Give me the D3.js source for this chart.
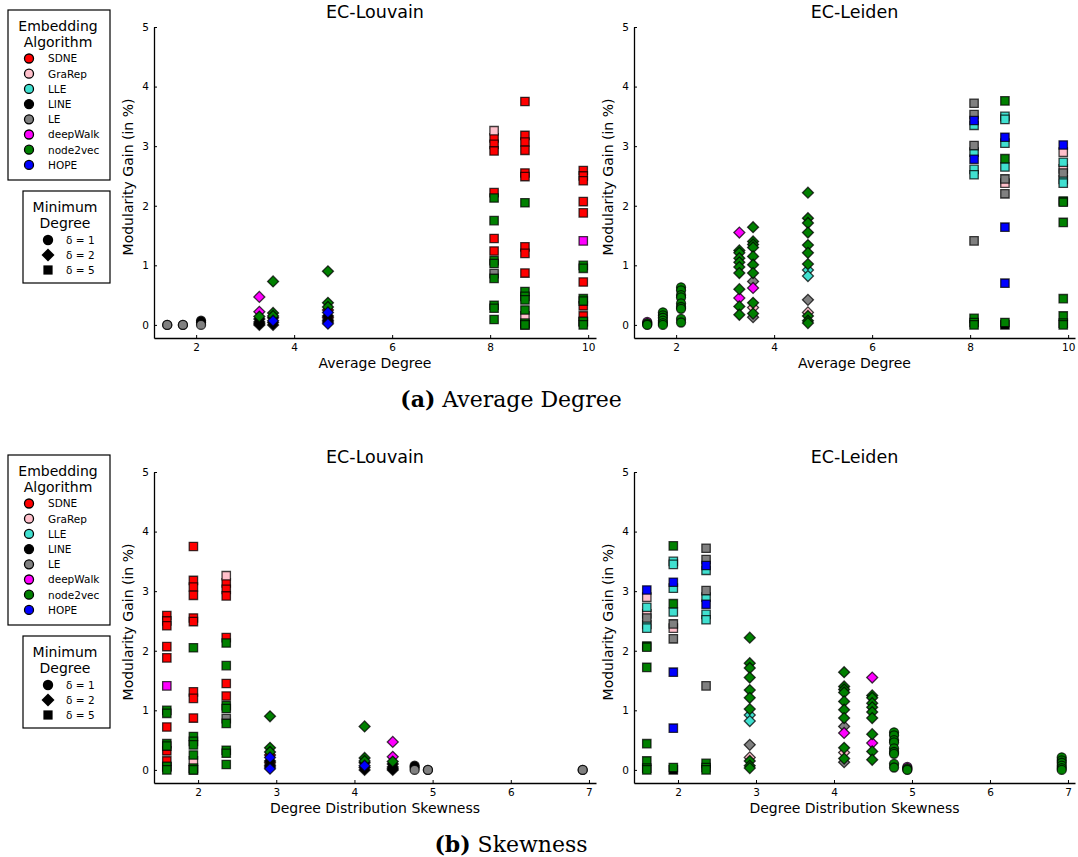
<!DOCTYPE html>
<html>
<head>
<meta charset="utf-8">
<script src="https://cdn.jsdelivr.net/npm/d3@7"></script>
<style>
  body { margin: 0; background: #fff; }
  text { font-family: "DejaVu Sans", sans-serif; fill: #000; }
  .caption { font-family: "DejaVu Serif", serif; font-size: 22px; }
</style>
</head>
<body>
<script>
// embedding algorithms, in legend (and drawing) order
var algorithms = ["SDNE", "GraRep", "LLE", "LINE", "LE", "deepWalk", "node2vec", "HOPE"];
var algoColors = ["#ff0000", "#ffc0cb", "#40e0d0", "#000000", "#808080", "#ff00ff", "#008000", "#0000ff"];

// the nine graphs: average degree, degree distribution skewness, minimum degree
var avgDegree = [1.41, 1.73, 2.10, 3.29, 3.57, 4.69, 8.08, 8.71, 9.90];
var skewness  = [4.94, 6.92, 4.77, 4.49, 4.13, 2.92, 2.36, 1.94, 1.60];
var minDegree = [1, 1, 1, 2, 2, 2, 5, 5, 5];
var degreeLabels = ["δ = 1", "δ = 2", "δ = 5"];

// modularity gain (in %): [graph, algorithm, values...]
var louvainGain = [
  [0, 3, 0], [0, 4, 0],
  [1, 3, 0], [1, 4, 0],
  [2, 3, 0.07, 0.04], [2, 4, 0],
  [3, 3, 0.1, 0.05, 0.02, 0], [3, 5, 0.47, 0.22], [3, 6, 0.14],
  [4, 3, 0.12, 0.04, 0], [4, 6, 0.73, 0.2, 0.15], [4, 7, 0.07],
  [5, 0, 0.25, 0.12], [5, 3, 0.15, 0.08, 0.05], [5, 6, 0.9, 0.37, 0.3], [5, 7, 0.21, 0.02],
  [6, 0, 3.14, 3.03, 2.92, 2.22, 1.45, 1.24], [6, 1, 3.26], [6, 4, 0.86],
  [6, 6, 2.13, 1.75, 1.08, 1.03, 0.78, 0.33, 0.28, 0.09],
  [7, 0, 3.75, 3.18, 3.07, 2.93, 2.55, 2.49, 1.31, 1.2, 0.87], [7, 1, 0.15], [7, 3, 0],
  [7, 6, 2.05, 0.56, 0.48, 0.42, 0.25, 0.03, 0],
  [8, 0, 2.59, 2.5, 2.42, 2.07, 1.88, 0.72, 0.32, 0.15, 0.05], [8, 5, 1.41],
  [8, 6, 1.0, 0.95, 0.44, 0.4, 0.06, 0]
];
var leidenGain = [
  [0, 5, 0.05], [0, 6, 0.03, 0.01, 0],
  [1, 6, 0.21, 0.16, 0.12, 0.07, 0.03, 0],
  [2, 6, 0.63, 0.58, 0.5, 0.46, 0.36, 0.3, 0.27, 0.1, 0.04],
  [3, 5, 1.55, 0.45], [3, 6, 1.25, 1.21, 1.12, 1.05, 0.97, 0.87, 0.6, 0.31, 0.17],
  [4, 1, 0.29], [4, 4, 0.73, 0.13], [4, 5, 0.62], [4, 6, 1.64, 1.4, 1.35, 1.3, 1.15, 1.01, 0.87, 0.37, 0.19],
  [5, 1, 0.21], [5, 2, 0.92, 0.82], [5, 4, 0.42], [5, 6, 2.22, 1.79, 1.71, 1.55, 1.34, 1.21, 1.02, 0.15, 0.07, 0.03],
  [6, 2, 3.35, 2.9, 2.61, 2.52], [6, 4, 3.72, 3.53, 3.01, 1.41], [6, 6, 0.11, 0.04, 0], [6, 7, 3.43, 2.78],
  [7, 1, 2.38], [7, 2, 3.5, 3.45, 3.05, 2.65], [7, 3, 0], [7, 4, 2.45, 2.2], [7, 6, 3.76, 2.79, 0.04], [7, 7, 3.15, 1.64, 0.7],
  [8, 1, 2.9, 2.62], [8, 2, 2.73, 2.44, 2.38], [8, 4, 2.55], [8, 6, 2.08, 2.06, 1.72, 0.44, 0.15, 0.03, 0], [8, 7, 3.02]
];

var xTicksDegree = [2, 4, 6, 8, 10];
var xTicksSkew = [2, 3, 4, 5, 6, 7];
var yTicks = [0, 1, 2, 3, 4, 5];

var svg = d3.select("body").append("svg")
  .attr("width", 1078)
  .attr("height", 857);

function flatten(rows) {
  var pts = [];
  rows.forEach(function(r) {
    for (var i = 2; i < r.length; i++) pts.push({g: r[0], a: r[1], v: r[i]});
  });
  // draw in legend order, like one series per algorithm
  pts.sort(function(p, q) { return p.a - q.a; });
  return pts;
}

function shapePath(delta, size) {
  if (delta == 1) return d3.symbol(d3.symbolCircle, size.circle)();
  return d3.symbol(d3.symbolSquare, delta == 2 ? size.diamond : size.square)();
}

var markSize = {circle: 64, diamond: 60, square: 70};

function panel(top, left, right, xDomain, xTicks, xValue, rows, title, xLabel) {
  var x = d3.scaleLinear().domain(xDomain).range([left, right]);
  var y = d3.scaleLinear().domain([-0.22, 5]).range([top + 311, top]);
  var g = svg.append("g");

  g.append("g")
    .attr("transform", "translate(0," + (top + 311) + ")")
    .call(d3.axisBottom(x).tickValues(xTicks).tickSizeInner(-3).tickSizeOuter(0).tickPadding(6).tickFormat(d3.format("d")))
    .call(function(a) {
      a.selectAll("text").style("font-size", "10.5px").style("font-family", "DejaVu Sans");
      a.select(".domain").attr("stroke-width", 1.3);
    });
  g.append("g")
    .attr("transform", "translate(" + left + ",0)")
    .call(d3.axisLeft(y).tickValues(yTicks).tickSizeInner(-3).tickSizeOuter(0).tickPadding(5).tickFormat(d3.format("d")))
    .call(function(a) {
      a.selectAll("text").style("font-size", "10.5px").style("font-family", "DejaVu Sans");
      a.select(".domain").attr("stroke-width", 1.3);
    });

  g.selectAll(".pt")
    .data(flatten(rows))
    .enter().append("path").classed("pt", true)
    .attr("d", function(d) { return shapePath(minDegree[d.g], markSize); })
    .attr("transform", function(d) {
      var t = "translate(" + x(xValue[d.g]) + "," + y(d.v) + ")";
      return minDegree[d.g] == 2 ? t + " rotate(45)" : t;
    })
    .attr("fill", function(d) { return algoColors[d.a]; })
    .attr("stroke", "#000")
    .attr("stroke-opacity", 0.75)
    .attr("stroke-width", 1.3);

  g.append("text")
    .attr("x", (left + right) / 2)
    .attr("y", top - 9)
    .attr("text-anchor", "middle")
    .style("font-size", "17.5px")
    .text(title);
  g.append("text")
    .attr("x", (left + right) / 2)
    .attr("y", top + 341)
    .attr("text-anchor", "middle")
    .style("font-size", "14px")
    .text(xLabel);
  g.append("text")
    .attr("transform", "translate(" + (left - 21) + "," + (top + 150) + ") rotate(-90)")
    .attr("text-anchor", "middle")
    .style("font-size", "14px")
    .text("Modularity Gain (in %)");
}

function legends(top) {
  var g = svg.append("g");
  g.append("rect")
    .attr("x", 8).attr("y", top + 10).attr("width", 102).attr("height", 170)
    .attr("fill", "#fff").attr("stroke", "#000").attr("stroke-width", 1.2);
  g.append("text").attr("x", 58).attr("y", top + 31).attr("text-anchor", "middle")
    .style("font-size", "14px").text("Embedding");
  g.append("text").attr("x", 58).attr("y", top + 47).attr("text-anchor", "middle")
    .style("font-size", "14px").text("Algorithm");
  algorithms.forEach(function(name, i) {
    var yy = top + 58.5 + i * 15.2;
    g.append("circle").attr("cx", 29).attr("cy", yy).attr("r", 4.5)
      .attr("fill", algoColors[i]).attr("stroke", "#000").attr("stroke-width", 1.3);
    g.append("text").attr("x", 48).attr("y", yy + 3.8).style("font-size", "10.5px").text(name);
  });

  g.append("rect")
    .attr("x", 23).attr("y", top + 191).attr("width", 87).attr("height", 92)
    .attr("fill", "#fff").attr("stroke", "#000").attr("stroke-width", 1.2);
  g.append("text").attr("x", 65).attr("y", top + 212).attr("text-anchor", "middle")
    .style("font-size", "14px").text("Minimum");
  g.append("text").attr("x", 65).attr("y", top + 228).attr("text-anchor", "middle")
    .style("font-size", "14px").text("Degree");
  var legendSize = {circle: 85, diamond: 85, square: 85};
  degreeLabels.forEach(function(lbl, i) {
    var yy = top + 240 + i * 15;
    var delta = [1, 2, 5][i];
    g.append("path")
      .attr("d", shapePath(delta, legendSize))
      .attr("transform", "translate(48," + yy + ")" + (delta == 2 ? " rotate(45)" : ""))
      .attr("fill", "#000");
    g.append("text").attr("x", 66).attr("y", yy + 3.8).style("font-size", "10.5px").text(lbl);
  });
}

// (a) average degree
legends(0);
panel(27, 154, 596, [1.14, 10.16], xTicksDegree, avgDegree, louvainGain, "EC-Louvain", "Average Degree");
panel(27, 634, 1075, [1.14, 10.14], xTicksDegree, avgDegree, leidenGain, "EC-Leiden", "Average Degree");

// (b) skewness
legends(445);
panel(472, 154, 596, [1.436, 7.09], xTicksSkew, skewness, louvainGain, "EC-Louvain", "Degree Distribution Skewness");
panel(472, 634, 1075, [1.436, 7.09], xTicksSkew, skewness, leidenGain, "EC-Leiden", "Degree Distribution Skewness");

var cap1 = svg.append("text").attr("class", "caption").attr("x", 511).attr("y", 407).attr("text-anchor", "middle");
cap1.append("tspan").style("font-weight", "bold").text("(a)");
cap1.append("tspan").text(" Average Degree");
var cap2 = svg.append("text").attr("class", "caption").attr("x", 511).attr("y", 852).attr("text-anchor", "middle");
cap2.append("tspan").style("font-weight", "bold").text("(b)");
cap2.append("tspan").text(" Skewness");
</script>
</body>
</html>
